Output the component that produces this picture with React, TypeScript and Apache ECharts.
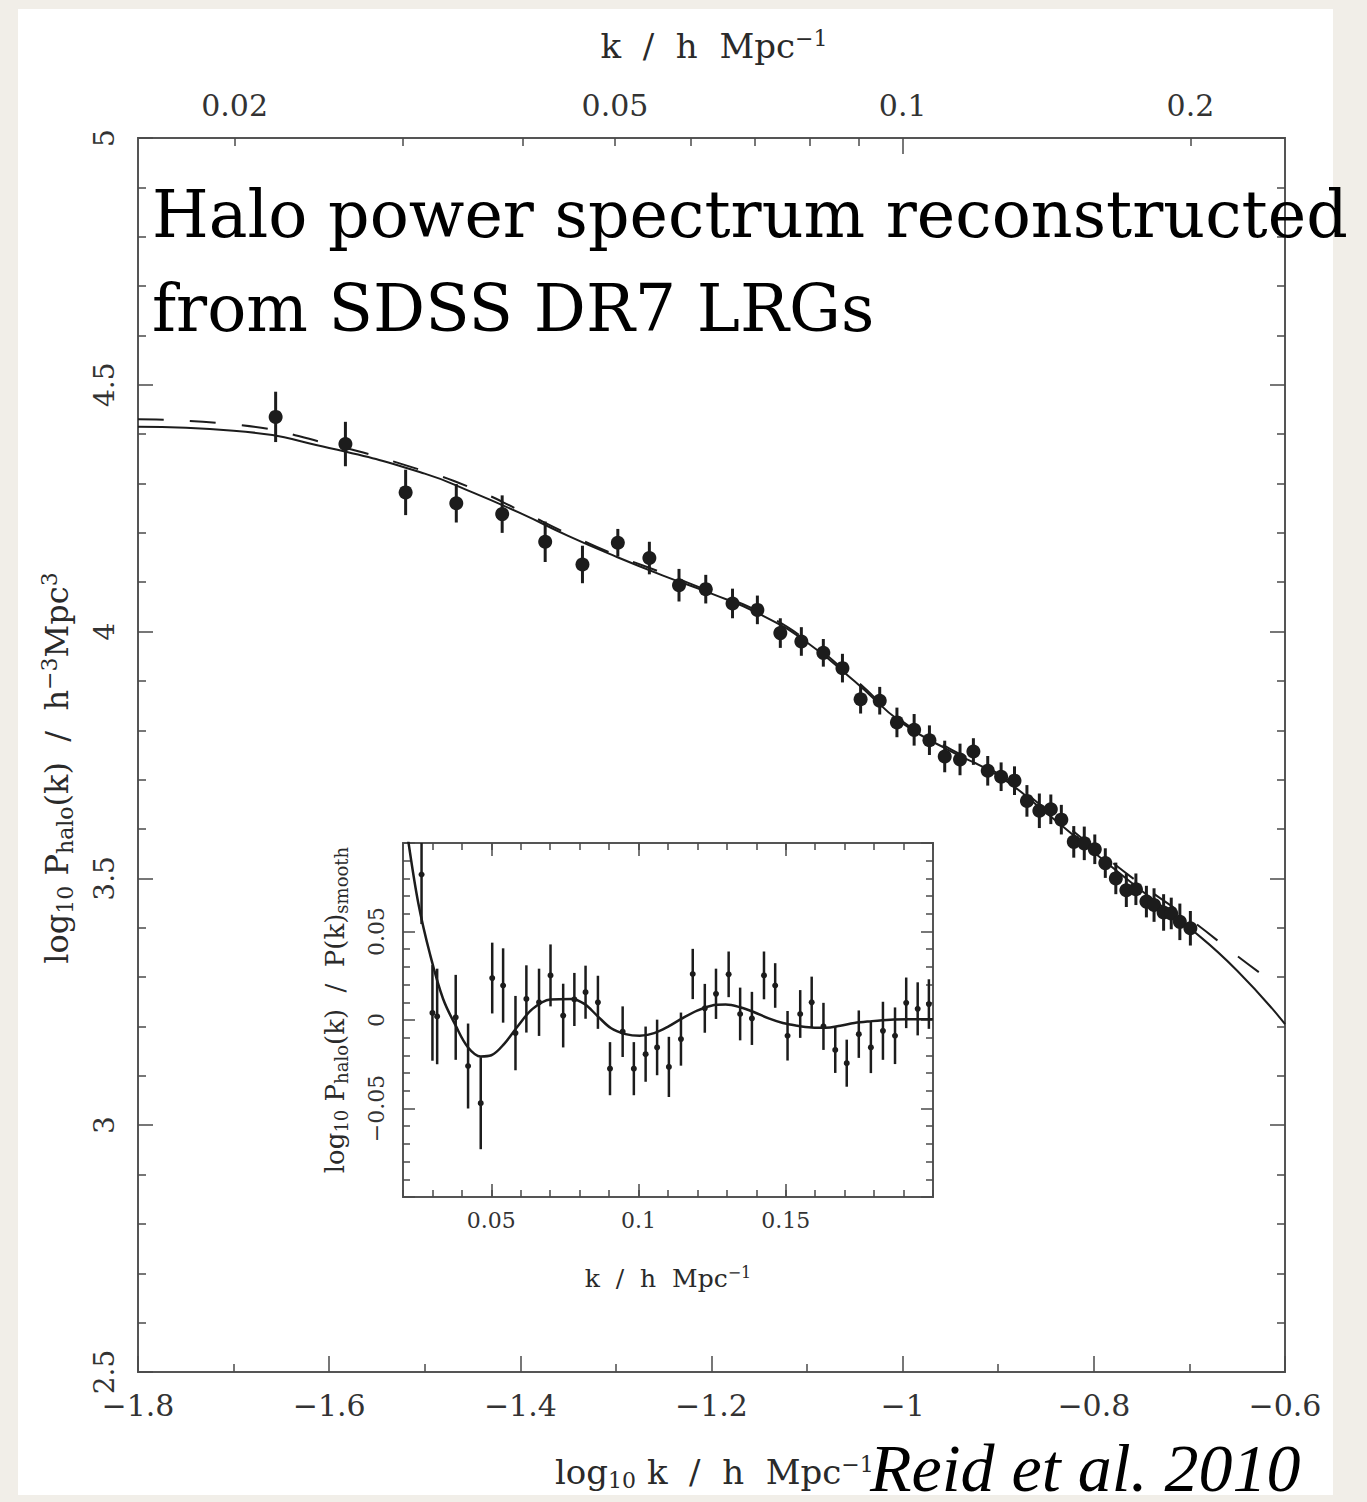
import React, { useEffect, useRef } from 'react';
import * as echarts from 'echarts';

// ---- main panel data: log10 k, log10 P_halo, 1-sigma error ----
const mainLogK = [-1.656, -1.583, -1.52, -1.467, -1.419, -1.374, -1.335, -1.298, -1.265, -1.234, -1.206, -1.178, -1.152, -1.128, -1.106, -1.083, -1.063, -1.044, -1.024, -1.006, -0.988, -0.972, -0.956, -0.94, -0.926, -0.911, -0.897, -0.883, -0.87, -0.857, -0.845, -0.834, -0.821, -0.81, -0.799, -0.788, -0.777, -0.766, -0.756, -0.745, -0.737, -0.727, -0.719, -0.71, -0.699];
const mainLogP = [4.435, 4.38, 4.282, 4.26, 4.238, 4.182, 4.136, 4.18, 4.149, 4.094, 4.086, 4.057, 4.044, 3.997, 3.98, 3.957, 3.926, 3.863, 3.86, 3.816, 3.801, 3.78, 3.747, 3.741, 3.757, 3.718, 3.706, 3.698, 3.657, 3.637, 3.64, 3.619, 3.574, 3.571, 3.559, 3.531, 3.5, 3.476, 3.478, 3.453, 3.446, 3.431, 3.429, 3.412, 3.399];
const mainErr = [0.051, 0.045, 0.046, 0.039, 0.038, 0.041, 0.038, 0.028, 0.033, 0.033, 0.029, 0.03, 0.029, 0.03, 0.029, 0.028, 0.029, 0.029, 0.028, 0.03, 0.032, 0.03, 0.032, 0.032, 0.027, 0.03, 0.029, 0.029, 0.032, 0.035, 0.03, 0.03, 0.032, 0.034, 0.03, 0.03, 0.032, 0.034, 0.032, 0.032, 0.034, 0.037, 0.032, 0.037, 0.035];

// solid model curve
const solidLogK = [-1.8, -1.7, -1.6, -1.5, -1.45, -1.4, -1.35, -1.3, -1.25, -1.2, -1.15, -1.1, -1.05, -1.0, -0.95, -0.9, -0.85, -0.8, -0.75, -0.7, -0.65, -0.6];
const solidLogP = [4.415, 4.407, 4.372, 4.32, 4.282, 4.24, 4.194, 4.152, 4.113, 4.077, 4.036, 3.978, 3.899, 3.814, 3.758, 3.708, 3.633, 3.553, 3.475, 3.4, 3.313, 3.205];

// dashed model curve
const dashLogK = [-1.8, -1.7, -1.6, -1.5, -1.45, -1.4, -1.35, -1.3, -1.25, -1.2, -1.15, -1.1, -1.05, -1.0, -0.95, -0.9, -0.85, -0.8, -0.75, -0.7, -0.65, -0.619];
const dashLogP = [4.43, 4.42, 4.38, 4.325, 4.29, 4.245, 4.198, 4.155, 4.118, 4.08, 4.04, 3.982, 3.903, 3.818, 3.762, 3.712, 3.64, 3.562, 3.487, 3.418, 3.343, 3.298];

// ---- inset data: k, log10 P/P_smooth, error ----
const insetK = [0.0263, 0.03, 0.0316, 0.0379, 0.0421, 0.0464, 0.0503, 0.054, 0.0582, 0.0619, 0.0662, 0.0701, 0.0744, 0.0782, 0.082, 0.0862, 0.0903, 0.0946, 0.0984, 0.1024, 0.1063, 0.1103, 0.1144, 0.1184, 0.1225, 0.1263, 0.1306, 0.1345, 0.1385, 0.1426, 0.1464, 0.1506, 0.1549, 0.1588, 0.1628, 0.1668, 0.1707, 0.1748, 0.1789, 0.183, 0.1871, 0.1909, 0.1948, 0.1986];
const insetVal = [0.0822, 0.004, 0.002, 0.0015, -0.026, -0.047, 0.0237, 0.0195, -0.0074, 0.0119, 0.01, 0.0252, 0.0025, 0.0116, 0.0157, 0.01, -0.0275, -0.0066, -0.0275, -0.0193, -0.0155, -0.0265, -0.0108, 0.026, 0.0066, 0.0148, 0.0258, 0.0034, 0.0009, 0.0252, 0.0195, -0.0089, 0.0034, 0.01, -0.0036, -0.0169, -0.0244, -0.008, -0.0155, -0.0061, -0.0089, 0.0097, 0.0063, 0.009];
const insetErr = [0.028, 0.027, 0.027, 0.024, 0.024, 0.026, 0.02, 0.021, 0.021, 0.019, 0.019, 0.0175, 0.018, 0.015, 0.015, 0.015, 0.015, 0.0143, 0.015, 0.0156, 0.0157, 0.017, 0.015, 0.0142, 0.0138, 0.0142, 0.0129, 0.0149, 0.015, 0.0135, 0.0126, 0.014, 0.0135, 0.0145, 0.0133, 0.013, 0.0133, 0.0134, 0.0145, 0.0164, 0.016, 0.0143, 0.015, 0.014];
const insetCurveK = [0.0212, 0.0218, 0.0252, 0.0292, 0.0336, 0.0379, 0.0421, 0.0464, 0.05, 0.0543, 0.0591, 0.064, 0.07, 0.0773, 0.0816, 0.0859, 0.0907, 0.0956, 0.1004, 0.1053, 0.1102, 0.115, 0.1199, 0.1247, 0.1296, 0.1345, 0.1393, 0.1442, 0.149, 0.1539, 0.1588, 0.1636, 0.1685, 0.1733, 0.1782, 0.1855, 0.1916, 0.2];
const insetCurveVal = [0.11, 0.101, 0.066, 0.037, 0.012, -0.0032, -0.0155, -0.0206, -0.0199, -0.0136, -0.0032, 0.0063, 0.0116, 0.0119, 0.0091, 0.0025, -0.0047, -0.008, -0.0089, -0.0074, -0.0036, 0.0011, 0.0053, 0.0081, 0.0087, 0.0072, 0.0044, 0.0009, -0.0017, -0.0032, -0.0042, -0.0044, -0.0032, -0.0017, -0.0008, 0.0002, 0.0004, 0.0004];

// ---- tick definitions ----
const topLabelK = [0.02, 0.05, 0.1, 0.2];
const topShortTickK = [0.02, 0.03, 0.04, 0.05, 0.06, 0.07, 0.08, 0.09, 0.2];
const topLongTickK = [0.1];
const insetMajorK = [0.05, 0.1, 0.15];

const ink = '#1c1c1c';
const tickColor = '#4a4a4a';
const frameColor = '#555';
const serif = 'DejaVu Serif';

const zip = (a: number[], b: number[]) => a.map((v, i) => [v, b[i]]);
const minus = (s: string) => s.replace('-', '\u2212');

function errSeries(xs: number[], ys: number[], es: number[], xi: number, yi: number, r: number, lw: number) {
  return {
    type: 'custom',
    xAxisIndex: xi,
    yAxisIndex: yi,
    clip: true,
    z: 5,
    data: xs.map((x, i) => [x, ys[i], es[i]]),
    encode: { x: 0, y: 1 },
    renderItem: (params: any, api: any) => {
      const x = api.value(0), y = api.value(1), e = api.value(2);
      const c = api.coord([x, y]);
      const t = api.coord([x, y + e]);
      const b = api.coord([x, y - e]);
      const cs = params.coordSys;
      const y1 = Math.max(t[1], cs.y);
      const y2 = Math.min(b[1], cs.y + cs.height);
      return {
        type: 'group',
        children: [
          { type: 'line', shape: { x1: c[0], y1, x2: c[0], y2 }, style: { stroke: ink, lineWidth: lw } },
          { type: 'circle', shape: { cx: c[0], cy: c[1], r }, style: { fill: ink } },
        ],
      };
    },
  };
}

const tick = (len: number, extra: any = {}) => ({ show: true, inside: true, length: len, lineStyle: { color: tickColor, width: 1.5 }, ...extra });
const minor = (n: number, len: number) => ({ show: true, splitNumber: n, length: len, lineStyle: { color: tickColor, width: 1.5 } });
const noLine = { show: false, onZero: false };
const noSplit = { show: false };

function richDef(main: number, small: number, drop: number) {
  return {
    n: { fontSize: main, fontFamily: serif, fill: '#2a2a2a', color: '#2a2a2a' },
    b: { fontSize: small, fontFamily: serif, fill: '#2a2a2a', color: '#2a2a2a', padding: [drop, 0, 0, 0] },
    p: { fontSize: small, fontFamily: serif, fill: '#2a2a2a', color: '#2a2a2a', padding: [0, 0, drop, 0] },
  };
}

function textEl(x: number, y: number, text: string, opts: any, rotation = 0) {
  return {
    type: 'text',
    x,
    y,
    rotation,
    z: 20,
    silent: true,
    style: {
      text,
      align: opts.align || 'center',
      textAlign: opts.align || 'center',
      verticalAlign: 'middle',
      textVerticalAlign: 'middle',
      fill: opts.fill || '#2a2a2a',
      fontSize: opts.fontSize,
      fontFamily: opts.fontFamily || serif,
      fontStyle: opts.fontStyle || 'normal',
      rich: opts.rich,
    },
  };
}

export default function App() {
  const ref = useRef<HTMLDivElement>(null);
  useEffect(() => {
    if (!ref.current) return;
    const chart = echarts.init(ref.current, undefined, { renderer: 'svg' });
    const option: any = {
      animation: false,
      backgroundColor: '#f1eee8',
      textStyle: { fontFamily: serif },
      grid: [
        { left: 138, top: 138, width: 1147, height: 1234, show: true, borderColor: frameColor, borderWidth: 2, containLabel: false, outerBoundsMode: 'none' },
        { left: 403, top: 843, width: 530, height: 354, show: true, backgroundColor: '#fff', borderColor: frameColor, borderWidth: 2, containLabel: false, outerBoundsMode: 'none' },
      ],
      xAxis: [
        {
          gridIndex: 0, type: 'value', position: 'bottom', min: -1.8, max: -0.6, interval: 0.2,
          axisLine: noLine, splitLine: noSplit,
          axisTick: tick(16), minorTick: minor(2, 8),
          axisLabel: { fontSize: 30, color: '#333', margin: 18, fontFamily: serif, formatter: (v: number) => minus(String(Math.round(v * 10) / 10)) },
        },
        {
          gridIndex: 0, type: 'value', position: 'top', min: -1.8, max: -0.6,
          axisLine: noLine, splitLine: noSplit,
          axisTick: tick(8, { customValues: topShortTickK.map((k) => Math.log10(k)) }),
          axisLabel: {
            customValues: topLabelK.map((k) => Math.log10(k)),
            fontSize: 30, color: '#333', margin: 18, fontFamily: serif,
            formatter: (v: number) => String(Math.round(Math.pow(10, v) * 100) / 100),
          },
        },
        {
          gridIndex: 0, type: 'value', position: 'top', min: -1.8, max: -0.6,
          axisLine: noLine, splitLine: noSplit,
          axisTick: tick(16, { customValues: topLongTickK.map((k) => Math.log10(k)) }),
          axisLabel: { show: false },
        },
        {
          gridIndex: 1, type: 'value', position: 'bottom', min: 0.02, max: 0.2, interval: 0.01,
          axisLine: noLine, splitLine: noSplit,
          axisTick: tick(7),
          axisLabel: {
            fontSize: 22, color: '#333', margin: 12, fontFamily: serif,
            formatter: (v: number) => {
              const m = v * 20;
              if (Math.abs(m - Math.round(m)) < 1e-6 && v > 0.021 && v < 0.199) return String(Math.round(v * 100) / 100);
              return '';
            },
          },
        },
        {
          gridIndex: 1, type: 'value', position: 'bottom', min: 0.02, max: 0.2,
          axisLine: noLine, splitLine: noSplit,
          axisTick: tick(13, { customValues: insetMajorK }),
          axisLabel: { show: false },
        },
        {
          gridIndex: 1, type: 'value', position: 'top', min: 0.02, max: 0.2, interval: 0.01,
          axisLine: noLine, splitLine: noSplit,
          axisTick: tick(7),
          axisLabel: { show: false },
        },
        {
          gridIndex: 1, type: 'value', position: 'top', min: 0.02, max: 0.2,
          axisLine: noLine, splitLine: noSplit,
          axisTick: tick(13, { customValues: insetMajorK }),
          axisLabel: { show: false },
        },
      ],
      yAxis: [
        {
          gridIndex: 0, type: 'value', position: 'left', min: 2.5, max: 5, interval: 0.5,
          axisLine: noLine, splitLine: noSplit,
          axisTick: tick(15), minorTick: minor(5, 8),
          axisLabel: { rotate: 90, fontSize: 28, color: '#333', margin: 20, fontFamily: serif, formatter: (v: number) => String(Math.round(v * 10) / 10) },
        },
        {
          gridIndex: 0, type: 'value', position: 'right', min: 2.5, max: 5, interval: 0.5,
          axisLine: noLine, splitLine: noSplit,
          axisTick: tick(15), minorTick: minor(5, 8),
          axisLabel: { show: false },
        },
        {
          gridIndex: 1, type: 'value', position: 'left', min: -0.1, max: 0.1, interval: 0.05,
          axisLine: noLine, splitLine: noSplit,
          axisTick: tick(12), minorTick: minor(5, 7),
          axisLabel: {
            rotate: 90, fontSize: 22, color: '#333', margin: 16, fontFamily: serif,
            formatter: (v: number) => (Math.abs(v) > 0.09 ? '' : minus(String(Math.round(v * 100) / 100))),
          },
        },
        {
          gridIndex: 1, type: 'value', position: 'right', min: -0.1, max: 0.1, interval: 0.05,
          axisLine: noLine, splitLine: noSplit,
          axisTick: tick(12), minorTick: minor(5, 7),
          axisLabel: { show: false },
        },
      ],
      series: [
        {
          type: 'line', xAxisIndex: 0, yAxisIndex: 0, data: zip(solidLogK, solidLogP),
          showSymbol: false, symbol: 'none', smooth: 0.5, z: 3,
          lineStyle: { color: ink, width: 2 },
        },
        {
          type: 'line', xAxisIndex: 0, yAxisIndex: 0, data: zip(dashLogK, dashLogP),
          showSymbol: false, symbol: 'none', smooth: 0.5, z: 3,
          lineStyle: { color: ink, width: 2, type: [26, 26] },
        },
        errSeries(mainLogK, mainLogP, mainErr, 0, 0, 7, 3),
        {
          type: 'line', xAxisIndex: 3, yAxisIndex: 2, data: zip(insetCurveK, insetCurveVal),
          showSymbol: false, symbol: 'none', smooth: 0.35, z: 3, clip: true,
          lineStyle: { color: ink, width: 2.5 },
        },
        errSeries(insetK, insetVal, insetErr, 3, 2, 3, 2.5),
      ],
      graphic: [
        { type: 'rect', z: -100, silent: true, shape: { x: 18, y: 9, width: 1315, height: 1486 }, style: { fill: '#ffffff' } },
        textEl(152, 214, 'Halo power spectrum reconstructed', { align: 'left', fontSize: 65, fill: '#000' }),
        textEl(152, 308, 'from SDSS DR7 LRGs', { align: 'left', fontSize: 65, fill: '#000' }),
        textEl(870, 1468, 'Reid et al. 2010', { align: 'left', fontSize: 68, fill: '#000', fontFamily: 'Liberation Serif', fontStyle: 'italic' }),
        textEl(714, 46, '{n|k  /  h  Mpc}{p|\u22121}', { fontSize: 34, rich: richDef(34, 22, 16) }),
        textEl(555, 1472, '{n|log}{b|10}{n| k  /  h  Mpc}{p|\u22121}', { align: 'left', fontSize: 34, rich: richDef(34, 22, 16) }),
        textEl(57, 768, '{n|log}{b|10}{n| P}{b|halo}{n|(k)  /  h}{p|\u22123}{n|Mpc}{p|3}', { fontSize: 32, rich: richDef(32, 22, 16) }, Math.PI / 2),
        textEl(335, 1010, '{n|log}{b|10}{n| P}{b|halo}{n|(k)  /  P(k)}{b|smooth}', { fontSize: 26, rich: richDef(26, 18, 12) }, Math.PI / 2),
        textEl(668, 1278, '{n|k  /  h  Mpc}{p|\u22121}', { fontSize: 25, rich: richDef(25, 16, 11) }),
      ],
    };
    chart.setOption(option);
    return () => chart.dispose();
  }, []);
  return <div ref={ref} style={{ position: 'absolute', left: 0, top: 0, width: 1367, height: 1502 }} />;
}
